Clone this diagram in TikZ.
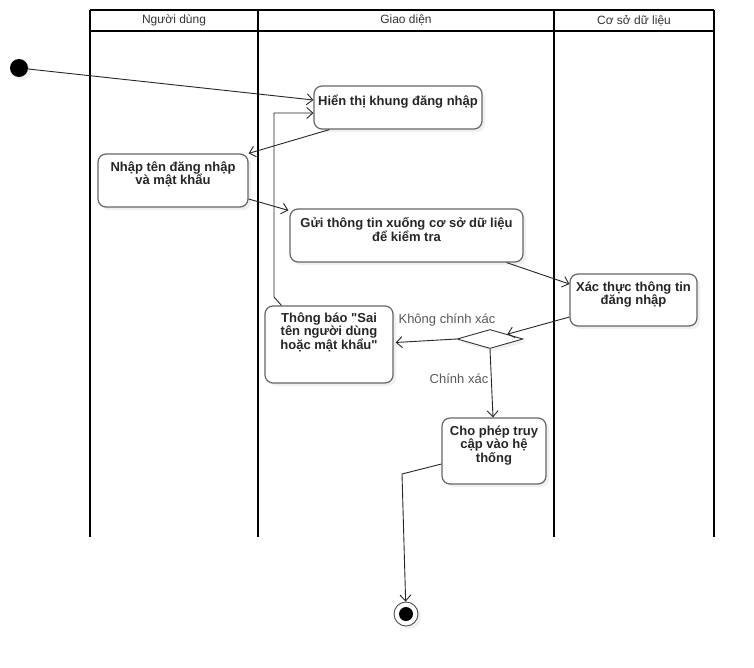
\documentclass[tikz,border=0pt]{standalone}
\usepackage{fontspec}
\setmainfont{Liberation Sans}
\usetikzlibrary{arrows.meta,shapes.geometric,shadows}
\begin{document}
\begin{tikzpicture}[x=1pt,y=-1pt,
  lane/.style={line width=1.6pt, black},
  hdr/.style={font=\fontsize{12}{14}\selectfont, text=black!80, inner sep=0pt},
  actbox/.style={draw=black!60, line width=1.2pt, rounded corners=8pt, fill=white,
    drop shadow={shadow xshift=3pt, shadow yshift=-3pt, opacity=0.12}, inner sep=0pt},
  acttext/.style={font=\bfseries\fontsize{13}{13.5}\selectfont, align=center, anchor=north, inner sep=0pt, text=black!85},
  flow/.style={draw=black!85, line width=0.9pt, -{Straight Barb[length=6pt,width=11pt]}},
  elabel/.style={font=\fontsize{13}{14}\selectfont, text=black!65, inner sep=0pt},
]
\useasboundingbox (0,0) rectangle (754,667);
% swimlanes
\draw[lane] (90,10) -- (714,10);
\draw[lane] (90,31) -- (714,31);
\draw[lane] (90,10) -- (90,537);
\draw[lane] (258,10) -- (258,537);
\draw[lane] (554,10) -- (554,537);
\draw[lane] (714,10) -- (714,537);
\node[hdr] (h1) at (174,20.5) {Người dùng};
\node[hdr] (h2) at (406,20.5) {Giao diện};
\node[hdr] (h3) at (634,20.5) {Cơ sở dữ liệu};
% start / end
\node[circle, fill=black, minimum size=18pt, inner sep=0pt,
  drop shadow={shadow xshift=3pt, shadow yshift=-3pt, opacity=0.12}] (start) at (19,68) {};
\node[circle, draw=black!70, line width=0.9pt, fill=white, minimum size=24pt, inner sep=0pt,
  drop shadow={shadow xshift=3pt, shadow yshift=-3pt, opacity=0.12}] (end) at (406,614) {};
\fill[black] (end.center) circle (7pt);
% activities
\node[actbox, minimum width=168pt, minimum height=43pt] (n1) at (398,107.5) {};
\node[acttext] (t1) at ([yshift=-9pt]n1.north) {Hiển thị khung đăng nhập};
\node[actbox, minimum width=150pt, minimum height=53pt] (n2) at (173,180.5) {};
\node[acttext] (t2) at ([yshift=-8pt]n2.north) {Nhập tên đăng nhập\\và mật khẩu};
\node[actbox, minimum width=233pt, minimum height=53pt] (n3) at (406.5,235.5) {};
\node[acttext] (t3) at ([yshift=-9pt]n3.north) {Gửi thông tin xuống cơ sở dữ liệu\\để kiểm tra};
\node[actbox, minimum width=127pt, minimum height=52pt] (n4) at (633.5,300) {};
\node[acttext] (t4) at ([yshift=-8pt]n4.north) {Xác thực thông tin\\đăng nhập};
\node[actbox, minimum width=128pt, minimum height=77pt] (n5) at (329,344.5) {};
\node[acttext] (t5) at ([yshift=-7pt]n5.north) {Thông báo \textquotedbl Sai\\tên người dùng\\hoặc mật khẩu\textquotedbl};
\node[actbox, minimum width=104pt, minimum height=66pt] (n6) at (494,451) {};
\node[acttext] (t6) at ([yshift=-8pt]n6.north) {Cho phép truy\\cập vào hệ\\thống};
\node[diamond, draw=black!80, line width=0.9pt, fill=white, minimum width=66pt, minimum height=19pt, inner sep=0pt,
  drop shadow={shadow xshift=3pt, shadow yshift=-3pt, opacity=0.12}] (dia) at (490,339) {};
% bends
\coordinate (b1) at (274,297);
\coordinate (b2) at (274,113);
\coordinate (b3) at (402,474);
% flows
\draw[flow] (start) -- ([yshift=7.5pt]n1.west);
\draw[flow] ([xshift=17pt]n5.north west) -- (b1) -- (b2) -- ([yshift=-5.5pt]n1.west);
\draw[flow] ([xshift=16pt]n1.south west) -- (n2.north east);
\draw[flow] ([yshift=-18.5pt]n2.east) -- ([xshift=-1pt,yshift=-2pt]n3.north west);
\draw[flow] ([xshift=-17pt]n3.south east) -- ([yshift=16pt]n4.west);
\draw[flow] ([yshift=-17pt]n4.west) -- (dia);
\draw[flow] (dia.west) -- ([xshift=2pt,yshift=2pt]n5.east);
\draw[flow] (dia.south) -- ([xshift=-1pt]n6.north);
\draw[flow] ([yshift=-13pt]n6.west) -- (b3) -- (end);
\node[elabel] (l1) at (447,320) {Không chính xác};
\node[elabel] (l2) at (459,379) {Chính xác};
\end{tikzpicture}
\end{document}
